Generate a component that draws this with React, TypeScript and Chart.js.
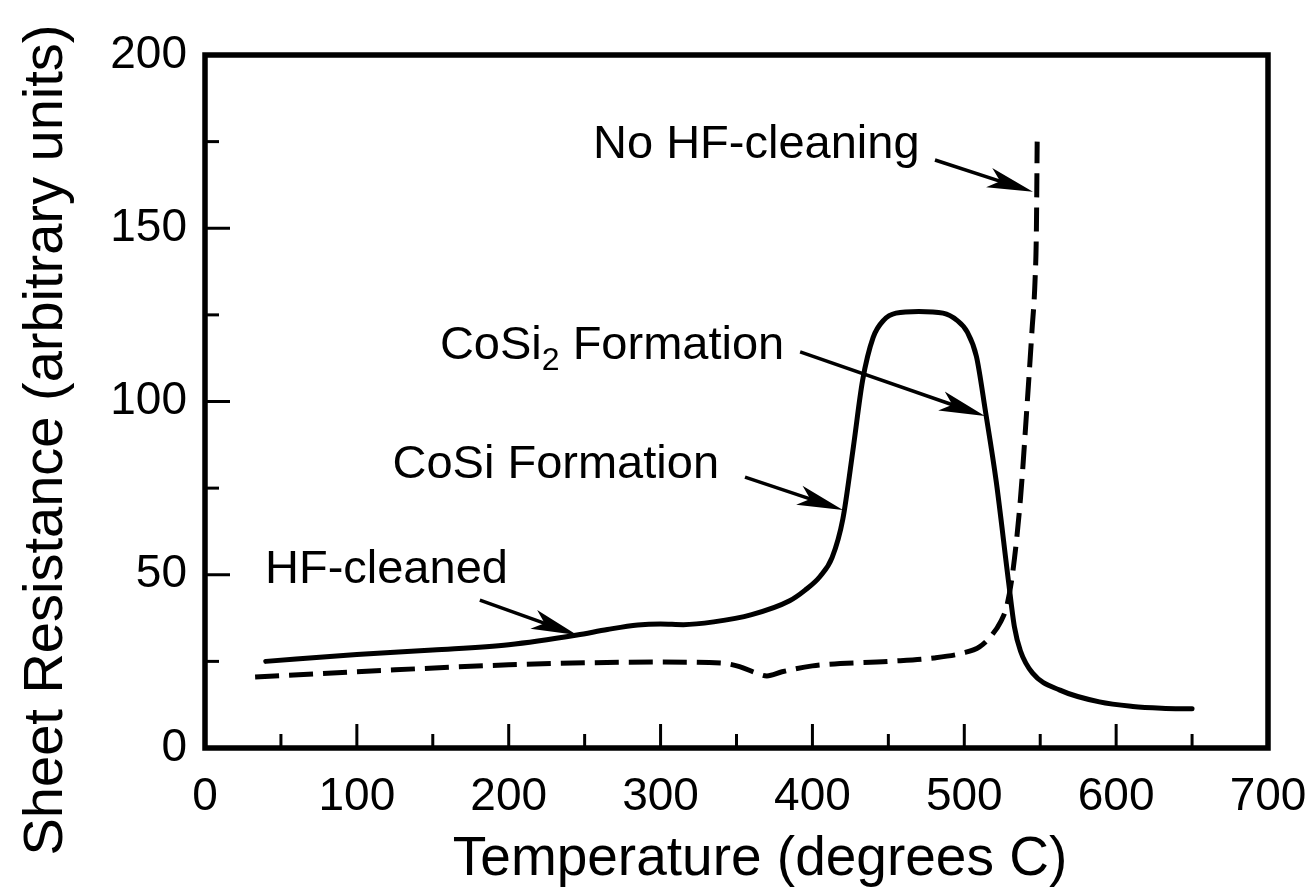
import React, { useEffect, useRef } from "react";
import { Chart, registerables } from "chart.js";

Chart.register(...registerables);

// ---- Data ----
const hfCleanedTemp = [40, 100, 150, 200, 245, 265, 285, 300, 315, 335, 360, 385, 395, 405, 413, 420, 427, 433, 440, 447, 455, 470, 486, 495, 502, 508, 514, 521, 529, 533, 537, 545, 563, 589, 611, 630, 650];
const hfCleanedRes = [25, 27, 28.3, 29.8, 32.6, 34.2, 35.5, 35.8, 35.6, 36.4, 38.5, 42.5, 45.5, 49.5, 55, 66, 87, 106, 118.5, 123.5, 125.5, 126, 125.5, 123.5, 120, 113, 97, 77, 48.5, 35, 28, 21.6, 16.7, 13.3, 12, 11.5, 11.3];

const noHfTemp = [33, 100, 200, 300, 340, 352, 362, 370, 380, 400, 450, 480, 499, 510, 518, 524, 528, 532, 537, 541, 544.6, 546.6, 547.5, 548];
const noHfRes = [20.5, 22, 24, 24.8, 24.5, 23.5, 21.8, 20.8, 22, 23.7, 25, 26, 27.4, 29.2, 32.5, 36.5, 41, 51, 72, 96.7, 120.6, 135, 150, 175];

const xMin = 0, xMax = 700, xStep = 50, xLabelEvery = 100;
const yMin = 0, yMax = 200, yStep = 25, yLabelEvery = 50;

const xTitle = "Temperature (degrees C)";
const yTitle = "Sheet Resistance (arbitrary units)";

// Annotation texts (segments: [text, isSubscript])
const annotationSegments: [string, boolean][][] = [
  [["No HF-cleaning", false]],
  [["CoSi", false], ["2", true], [" Formation", false]],
  [["CoSi Formation", false]],
  [["HF-cleaned", false]],
];
// text anchor (left, baseline) in data units
const annotationTextX = [255.5, 154.7, 123.5, 39.5];
const annotationTextY = [170.3, 112.3, 77.9, 47.6];
// arrow start / tip in data units
const arrowFromX = [480.7, 391.9, 355.6, 181];
const arrowFromY = [169.7, 114.3, 78.2, 42.7];
const arrowToX = [545.2, 513.6, 420.1, 245];
const arrowToY = [160.5, 95.8, 68.7, 32.6];

const FONT = '"Liberation Sans", Arial, Helvetica, sans-serif';

function toPoints(xs: number[], ys: number[]) {
  return xs.map((x, i) => ({ x, y: ys[i] }));
}

function drawArrow(ctx: CanvasRenderingContext2D, x1: number, y1: number, x2: number, y2: number) {
  const dx = x2 - x1, dy = y2 - y1;
  const len = Math.hypot(dx, dy);
  const ux = dx / len, uy = dy / len;
  const px = -uy, py = ux;
  const L = 46, W = 10;
  ctx.save();
  ctx.strokeStyle = "#000";
  ctx.fillStyle = "#000";
  ctx.lineWidth = 3.5;
  ctx.lineCap = "butt";
  ctx.beginPath();
  ctx.moveTo(x1, y1);
  ctx.lineTo(x2 - ux * L * 0.6, y2 - uy * L * 0.6);
  ctx.stroke();
  ctx.beginPath();
  ctx.moveTo(x2, y2);
  ctx.lineTo(x2 - ux * L + px * W, y2 - uy * L + py * W);
  ctx.lineTo(x2 - ux * L * 0.75, y2 - uy * L * 0.75);
  ctx.lineTo(x2 - ux * L - px * W, y2 - uy * L - py * W);
  ctx.closePath();
  ctx.fill();
  ctx.restore();
}

const decorPlugin = {
  id: "decor",
  afterDatasetsDraw(chart: any) {
    const { ctx, chartArea } = chart;
    const xs = chart.scales.x;
    const ys = chart.scales.y;
    const { left, right, top, bottom } = chartArea;
    ctx.save();
    // frame
    ctx.strokeStyle = "#000";
    ctx.lineWidth = 5.5;
    ctx.lineJoin = "miter";
    ctx.strokeRect(left, top, right - left, bottom - top);
    // ticks (inside)
    ctx.lineWidth = 3;
    ctx.lineCap = "butt";
    for (let v = xMin + xStep; v < xMax; v += xStep) {
      const px = xs.getPixelForValue(v);
      const len = v % xLabelEvery === 0 ? 24 : 14;
      ctx.beginPath();
      ctx.moveTo(px, bottom);
      ctx.lineTo(px, bottom - len);
      ctx.stroke();
    }
    for (let v = yMin + yStep; v < yMax; v += yStep) {
      const py = ys.getPixelForValue(v);
      const len = v % yLabelEvery === 0 ? 25 : 14;
      ctx.beginPath();
      ctx.moveTo(left, py);
      ctx.lineTo(left + len, py);
      ctx.stroke();
    }
    // annotations
    ctx.fillStyle = "#000";
    ctx.textBaseline = "alphabetic";
    ctx.textAlign = "left";
    annotationSegments.forEach((segs, i) => {
      let x = xs.getPixelForValue(annotationTextX[i]);
      const y = ys.getPixelForValue(annotationTextY[i]);
      segs.forEach(([t, sub]) => {
        ctx.font = sub ? `32px ${FONT}` : `47px ${FONT}`;
        ctx.fillText(t, x, sub ? y + 11 : y);
        x += ctx.measureText(t).width;
      });
      drawArrow(
        ctx,
        xs.getPixelForValue(arrowFromX[i]),
        ys.getPixelForValue(arrowFromY[i]),
        xs.getPixelForValue(arrowToX[i]),
        ys.getPixelForValue(arrowToY[i])
      );
    });
    // axis titles
    ctx.font = `55px ${FONT}`;
    ctx.textAlign = "center";
    ctx.fillText(xTitle, 760, 875);
    ctx.save();
    ctx.translate(62, 440);
    ctx.rotate(-Math.PI / 2);
    ctx.font = `56px ${FONT}`;
    ctx.fillText(yTitle, 0, 0);
    ctx.restore();
    ctx.restore();
  },
};

export default function App() {
  const ref = useRef<HTMLCanvasElement | null>(null);
  useEffect(() => {
    if (!ref.current) return;
    const chart = new Chart(ref.current, {
      type: "line",
      data: {
        datasets: [
          {
            label: "HF-cleaned",
            data: toPoints(hfCleanedTemp, hfCleanedRes),
            borderColor: "#000",
            borderWidth: 5,
            pointRadius: 0,
            cubicInterpolationMode: "monotone",
            borderCapStyle: "round",
            borderJoinStyle: "round",
            fill: false,
          },
          {
            label: "No HF-cleaning",
            data: toPoints(noHfTemp, noHfRes),
            borderColor: "#000",
            borderWidth: 5,
            borderDash: [24, 10],
            pointRadius: 0,
            cubicInterpolationMode: "monotone",
            borderCapStyle: "butt",
            fill: false,
          },
        ],
      },
      options: {
        animation: false,
        responsive: false,
        maintainAspectRatio: false,
        layout: { padding: { top: 55, right: 48, left: 0, bottom: 0 } },
        plugins: { legend: { display: false }, tooltip: { enabled: false } },
        scales: {
          x: {
            type: "linear",
            min: xMin,
            max: xMax,
            border: { display: false },
            grid: { display: false, drawTicks: false },
            ticks: {
              stepSize: xStep,
              autoSkip: false,
              maxRotation: 0,
              padding: 22,
              color: "#000",
              font: { family: FONT, size: 46 },
              callback: (v: any) => (Number(v) % xLabelEvery === 0 ? String(v) : ""),
            },
            afterFit: (s: any) => {
              s.height = 142;
              s.paddingLeft = 0;
              s.paddingRight = 0;
            },
          },
          y: {
            type: "linear",
            min: yMin,
            max: yMax,
            border: { display: false },
            grid: { display: false, drawTicks: false },
            ticks: {
              stepSize: yStep,
              autoSkip: false,
              padding: 18,
              color: "#000",
              font: { family: FONT, size: 46 },
              callback: (v: any) => (Number(v) % yLabelEvery === 0 ? String(v) : ""),
            },
            afterFit: (s: any) => {
              s.width = 205;
              s.paddingTop = 0;
              s.paddingBottom = 0;
            },
          },
        },
      },
      plugins: [decorPlugin],
    });
    return () => chart.destroy();
  }, []);
  return (
    <div style={{ position: "fixed", left: 0, top: 0, width: 1316, height: 890, background: "#fff" }}>
      <canvas ref={ref} width={1316} height={890} />
    </div>
  );
}
